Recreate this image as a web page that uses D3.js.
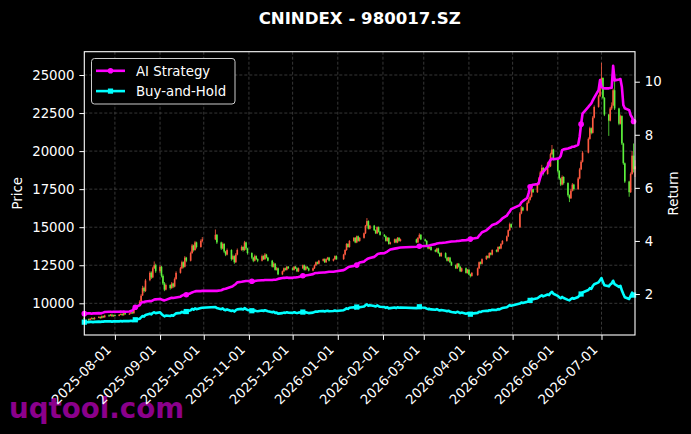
<!DOCTYPE html>
<html>
<head>
<meta charset="utf-8">
<script src="https://cdn.jsdelivr.net/npm/d3@7"></script>
<style>
  body { margin: 0; background: #000; }
  text { font-family: "DejaVu Sans", sans-serif; }
</style>
</head>
<body>
<div id="chart"></div>
<script>

// ------------------- //
// DATA
// ------------------- //

var firstDay = "2025-07-11", lastDay = "2026-07-24"
var holidays = ["2025-10-01","2025-10-02","2025-10-03","2025-10-06","2025-10-07","2025-10-08",
  "2026-01-01","2026-01-02","2026-02-16","2026-02-17","2026-02-18","2026-02-19","2026-02-20","2026-02-23",
  "2026-04-06","2026-05-01","2026-05-04","2026-05-05","2026-06-19"]

var priceOpen = [
  9050,8960,8900,8990,9030,8950,9060,9110,9030,9160,9080,9210,9170,9260,9140,
  9230,9170,9250,9310,9210,9360,9270,9320,9410,9340,9610,9820,10120,10520,11020,10800,11520,12020,11700,12300,12500,
  12100,12400,11800,11300,10900,11200,11000,11300,11100,11600,12000,12300,12700,12400,13000,12800,13300,13800,13500,14000,13700,14100,
  14200,14500,14000,13600,13900,13400,13200,13500,12900,13100,12700,13200,13500,13700,13500,14000,13600,
  13300,13000,12800,13100,12900,12800,13100,12900,13200,13000,12800,12400,12600,12200,12300,11900,12100,12300,12200,12400,
  12300,12200,12400,12300,12100,12300,12500,12200,12400,12300,12150,12300,12500,12700,12600,12800,12900,12700,12900,13000,12800,12900,13100,
  12900,13200,13500,13900,13700,14100,14300,14000,14400,14100,14300,14600,15100,15400,14900,15100,14800,14600,15000,14700,
  14500,14400,14100,14300,13900,14000,14200,14000,14300,14100,14200,14000,14300,14500,
  14200,14100,13800,13600,13700,13500,13400,13600,13300,13100,13300,13000,12800,13000,12700,12500,12300,12600,12400,12100,12300,12000,
  12200,11900,11800,11850,12300,12700,12600,12900,13100,13000,13300,13200,13500,13400,13700,13600,13900,14100,14400,14800,15200,
  15000,15900,16300,16100,16600,16800,17000,17500,17300,17800,18200,18600,18900,18500,19200,19000,19800,20100,
  19500,18700,18200,17800,18300,17900,17100,16900,17400,17800,17500,18200,18800,19300,19900,20800,21500,21200,22200,22900,23600,
  24300,24800,23500,22400,22000,22800,23000,24000,22800,21800,22300,20500,19200,18000,17300,18500,19700,18800]

var priceHigh = [
  9120,9000,9040,9080,9060,9100,9160,9130,9200,9190,9250,9260,9300,9280,9260,
  9260,9290,9340,9330,9390,9380,9360,9440,9430,9650,9850,10200,10600,11150,11100,11600,12100,12100,12400,12750,12600,
  12500,12450,11900,11400,11300,11250,11400,11350,11700,12100,12400,12800,12750,13100,13050,13400,13900,13850,14100,14050,14200,14350,
  14850,14550,14050,14000,13950,13450,13600,13550,13200,13150,13300,13600,13800,13750,14100,14050,13650,
  13350,13050,13200,13150,12950,13200,13150,13300,13250,13050,12850,12700,12650,12400,12350,12150,12350,12350,12450,12450,
  12350,12450,12450,12350,12350,12550,12550,12450,12450,12350,12350,12550,12750,12750,12850,12950,12950,12950,13050,13050,12950,13150,13150,
  13250,13550,13950,13950,14150,14350,14350,14450,14450,14350,14650,15150,15600,15450,15150,15150,14850,15050,15050,14750,
  14550,14450,14350,14350,14050,14250,14250,14350,14350,14250,14250,14350,14600,14550,
  14250,14150,13850,13750,13750,13550,13650,13650,13350,13350,13350,13050,13050,13050,12750,12550,12650,12650,12450,12350,12350,12250,
  12250,11950,12050,12350,12750,12750,12950,13150,13150,13350,13350,13550,13550,13750,13750,13950,14150,14450,14850,15300,15250,
  16000,16400,16350,16700,16900,17100,17600,17550,17900,18300,18700,19100,18950,19300,19250,19900,20400,20150,
  19550,18750,18250,18400,18350,17950,17150,17500,17900,17850,18300,18900,19400,20000,20900,21600,21550,22300,23000,23700,24500,
  25800,24850,23550,22450,22900,23200,24100,24900,22850,22400,22350,20550,19250,18050,18600,20000,20500,19400]

var priceLow = [
  8900,8830,8870,8950,8920,8930,9020,8990,9000,9040,9060,9130,9150,9110,9120,
  9140,9150,9220,9180,9200,9240,9250,9300,9310,9330,9580,9790,10080,10480,10700,10750,11450,11600,11650,12250,12000,
  12000,11700,11200,10800,10850,10900,10950,11000,11050,11550,11950,12250,12300,12350,12700,12750,13250,13400,13450,13600,13650,14000,
  14150,13900,13500,13550,13300,13100,13150,12800,12850,12600,12650,13150,13450,13400,13450,13500,13200,
  12900,12700,12750,12850,12700,12750,12850,12850,12950,12750,12350,12350,12150,12150,11850,11850,12050,12150,12150,12250,
  12150,12150,12250,12050,12050,12250,12150,12150,12250,12100,12100,12250,12450,12550,12550,12750,12650,12650,12850,12750,12750,12850,12850,
  12850,13150,13450,13650,13650,14050,13950,13950,14050,14050,14250,14550,15050,14850,14850,14750,14550,14550,14650,14450,
  14350,14050,14050,13850,13850,13950,13950,13950,14050,14050,13950,13950,14250,14150,
  14050,13750,13550,13550,13450,13350,13350,13250,13050,13050,12950,12750,12750,12650,12450,12250,12250,12350,12050,12050,11950,11950,
  11850,11700,11750,11800,12250,12550,12550,12850,12950,12950,13150,13150,13350,13350,13550,13550,13850,14050,14350,14750,14950,
  14950,15850,16050,16050,16550,16750,16950,17250,17250,17750,18150,18550,18400,18450,18900,18950,19750,19400,
  18600,18100,17700,17750,17800,17000,16650,16850,17350,17400,17450,18150,18750,19250,19850,20750,21100,21150,22150,22850,23550,
  24200,23400,22300,21000,21950,22700,22950,22700,21700,21750,20400,19100,17900,17000,17250,18450,18600,18300]

var priceClose = [
  8950,8900,8980,9020,8960,9050,9100,9020,9150,9080,9200,9180,9250,9150,9220,
  9180,9250,9300,9220,9350,9280,9320,9400,9350,9600,9800,10100,10500,11000,10800,11500,12000,11700,12300,12500,12100,
  12400,11800,11300,10900,11200,11000,11300,11100,11600,12000,12300,12700,12400,13000,12800,13300,13800,13500,14000,13700,14100,14200,
  14500,14000,13600,13900,13400,13200,13500,12900,13100,12700,13200,13500,13700,13500,14000,13600,13300,
  13000,12800,13100,12900,12800,13100,12900,13200,13000,12800,12400,12600,12200,12300,11900,12100,12300,12200,12400,12300,
  12200,12400,12300,12100,12300,12500,12200,12400,12300,12150,12300,12500,12700,12600,12800,12900,12700,12900,13000,12800,12900,13100,12900,
  13200,13500,13900,13700,14100,14300,14000,14400,14100,14300,14600,15100,15400,14900,15100,14800,14600,15000,14700,14500,
  14400,14100,14300,13900,14000,14200,14000,14300,14100,14200,14000,14300,14500,14200,
  14100,13800,13600,13700,13500,13400,13600,13300,13100,13300,13000,12800,13000,12700,12500,12300,12600,12400,12100,12300,12000,12200,
  11900,11800,12000,12300,12700,12600,12900,13100,13000,13300,13200,13500,13400,13700,13600,13900,14100,14400,14800,15200,15000,
  15900,16300,16100,16600,16800,17000,17500,17300,17800,18200,18600,18900,18500,19200,19000,19800,20100,19500,
  18700,18200,17800,18300,17900,17100,16900,17400,17800,17500,18200,18800,19300,19900,20800,21500,21200,22200,22900,23600,24300,
  24800,23500,22400,22000,22800,23000,24000,22800,21800,22300,20500,19200,18000,17300,18500,19700,18800,19000]

var aiReturn = [
  1.26,1.27,1.27,1.26,1.27,1.27,1.28,1.27,1.28,1.30,1.32,1.33,1.33,1.32,1.33,
  1.33,1.33,1.34,1.33,1.34,1.33,1.34,1.36,1.38,1.45,1.50,1.58,1.66,1.70,1.69,1.72,1.74,1.73,1.76,1.79,1.80,
  1.81,1.79,1.77,1.76,1.78,1.84,1.86,1.85,1.86,1.87,1.90,1.94,1.96,1.98,1.97,2.03,2.06,2.08,2.10,2.11,2.11,2.12,
  2.12,2.12,2.14,2.17,2.19,2.20,2.22,2.27,2.30,2.34,2.38,2.44,2.46,2.47,2.48,2.49,2.49,
  2.48,2.46,2.49,2.50,2.51,2.52,2.52,2.53,2.53,2.53,2.53,2.54,2.54,2.55,2.57,2.60,2.61,2.61,2.62,2.61,
  2.61,2.62,2.62,2.63,2.64,2.69,2.68,2.70,2.71,2.72,2.75,2.78,2.79,2.79,2.80,2.81,2.81,2.82,2.83,2.84,2.84,2.85,2.86,
  2.90,2.93,2.97,3.00,3.03,3.06,3.08,3.09,3.14,3.19,3.22,3.27,3.31,3.34,3.36,3.40,3.44,3.49,3.52,3.53,
  3.54,3.57,3.60,3.64,3.68,3.71,3.72,3.73,3.74,3.75,3.78,3.79,3.80,3.80,
  3.81,3.81,3.82,3.83,3.85,3.88,3.90,3.91,3.92,3.92,3.94,3.95,3.96,3.97,3.98,3.99,4.00,4.00,4.01,4.02,4.03,4.04,
  4.05,4.07,4.08,4.12,4.20,4.26,4.33,4.40,4.45,4.50,4.55,4.60,4.66,4.70,4.74,4.79,4.85,4.95,5.04,5.10,5.20,
  5.35,5.45,5.50,5.62,5.80,6.04,6.10,6.12,6.14,6.20,6.40,6.55,6.60,6.80,6.95,7.05,7.10,7.08,
  7.10,7.12,7.20,7.42,7.45,7.48,7.50,7.52,7.55,7.55,7.62,7.92,8.40,8.80,9.05,9.12,9.18,9.30,9.40,9.68,10.06,
  9.80,9.76,9.75,9.75,9.76,9.77,10.60,10.05,10.08,10.10,9.80,9.12,9.00,8.93,8.74,8.65,8.50,8.43]

var bhReturn = [
  0.94,0.94,0.95,0.95,0.94,0.95,0.96,0.95,0.96,0.96,0.97,0.97,0.97,0.96,0.97,
  0.97,0.97,0.98,0.97,0.98,0.98,0.98,0.99,0.98,1.01,1.03,1.07,1.12,1.17,1.15,1.21,1.26,1.23,1.29,1.31,1.28,
  1.31,1.25,1.20,1.16,1.19,1.17,1.20,1.18,1.23,1.27,1.29,1.33,1.30,1.36,1.34,1.39,1.44,1.41,1.46,1.43,1.47,1.48,
  1.51,1.47,1.43,1.46,1.41,1.39,1.42,1.36,1.38,1.34,1.39,1.42,1.44,1.42,1.47,1.43,1.40,
  1.37,1.35,1.38,1.36,1.35,1.38,1.36,1.39,1.37,1.35,1.31,1.33,1.29,1.30,1.26,1.28,1.30,1.29,1.31,1.30,
  1.29,1.31,1.30,1.28,1.30,1.32,1.29,1.31,1.30,1.28,1.30,1.32,1.34,1.33,1.35,1.36,1.34,1.36,1.37,1.35,1.36,1.38,1.36,
  1.39,1.42,1.46,1.44,1.48,1.50,1.47,1.51,1.48,1.50,1.53,1.58,1.61,1.56,1.58,1.55,1.53,1.57,1.54,1.52,
  1.51,1.48,1.50,1.46,1.47,1.49,1.47,1.50,1.48,1.49,1.47,1.50,1.52,1.49,
  1.48,1.45,1.43,1.44,1.42,1.41,1.43,1.40,1.38,1.40,1.37,1.35,1.37,1.34,1.32,1.30,1.33,1.31,1.28,1.30,1.26,1.28,
  1.25,1.24,1.26,1.29,1.33,1.32,1.35,1.37,1.36,1.39,1.38,1.41,1.40,1.43,1.42,1.45,1.47,1.50,1.54,1.58,1.56,
  1.64,1.68,1.66,1.71,1.73,1.76,1.82,1.80,1.84,1.88,1.92,1.95,1.91,1.98,1.96,2.04,2.08,2.01,
  1.93,1.88,1.84,1.89,1.85,1.78,1.76,1.81,1.85,1.82,1.89,1.95,2.00,2.06,2.15,2.22,2.19,2.30,2.37,2.44,2.52,
  2.60,2.45,2.33,2.29,2.36,2.40,2.50,2.37,2.27,2.31,2.13,2.00,1.88,1.81,1.93,2.05,1.96,1.98]

var priceTicks = [10000, 12500, 15000, 17500, 20000, 22500, 25000]
var returnTicks = [2, 4, 6, 8, 10]
var seriesNames = ["AI Strategy", "Buy-and-Hold"]

// ------------------- //
// SETUP
// ------------------- //

var W = 691, H = 434
var margin = {top: 51.7, right: 56, bottom: 99, left: 84.3},
  width = W - margin.left - margin.right,
  height = H - margin.top - margin.bottom

var parseDay = d3.timeParse("%Y-%m-%d"), fmtDay = d3.timeFormat("%Y-%m-%d")

// trading calendar: weekdays without exchange holidays
var days = d3.timeDay.range(parseDay(firstDay), d3.timeDay.offset(parseDay(lastDay), 1))
  .filter(function(d){ return d.getDay() != 0 && d.getDay() != 6 && holidays.indexOf(fmtDay(d)) < 0 })

var data = days.map(function(d, i){
  return {date: d, o: priceOpen[i], h: priceHigh[i], l: priceLow[i], c: priceClose[i], ai: aiReturn[i], bh: bhReturn[i]}
})

var svg = d3.select("#chart")
.append("svg")
  .attr("width", W)
  .attr("height", H)
  .style("background", "#000")

// watermark sits under the tick labels
svg.append("text")
  .attr("x", 9).attr("y", 418)
  .attr("fill", "#8b008b")
  .style("font-size", "27.7px").style("font-weight", "bold")
  .text("uqtool.com")

var g = svg.append("g")
  .attr("transform", "translate(" + margin.left + "," + margin.top + ")")

// ------------------- //
// AXIS AND SCALES
// ------------------- //

var x = d3.scaleTime()
  .domain([parseDay(firstDay), parseDay(lastDay)])
  .range([0, width])
var yP = d3.scaleLinear().domain([7917, 26531]).range([height, 0])
var yR = d3.scaleLinear().domain([0.456, 11.13]).range([height, 0])

var months = d3.timeMonth.range(parseDay("2025-08-01"), parseDay("2026-07-02"))

// grid
g.append("g").selectAll("line").data(priceTicks).enter().append("line")
  .attr("x1", 0).attr("x2", width)
  .attr("y1", function(d){ return yP(d) }).attr("y2", function(d){ return yP(d) })
  .attr("stroke", "#5a5a5a").attr("stroke-width", 0.6).attr("stroke-dasharray", "3,2")
g.append("g").selectAll("line").data(months).enter().append("line")
  .attr("y1", 0).attr("y2", height)
  .attr("x1", function(d){ return x(d) }).attr("x2", function(d){ return x(d) })
  .attr("stroke", "#5a5a5a").attr("stroke-width", 0.6).attr("stroke-dasharray", "3,2")

// ------------------- //
// CANDLES
// ------------------- //

function candleColor(d){ return d.c >= d.o ? "#ff5a40" : "#5cf03c" }

g.append("g").selectAll("line").data(data).enter().append("line")
  .attr("x1", function(d){ return x(d.date) }).attr("x2", function(d){ return x(d.date) })
  .attr("y1", function(d){ return yP(d.h) }).attr("y2", function(d){ return yP(d.l) })
  .attr("stroke", candleColor).attr("stroke-width", 0.8)

g.append("g").selectAll("rect").data(data).enter().append("rect")
  .attr("x", function(d){ return x(d.date) - 0.8 })
  .attr("width", 1.6)
  .attr("y", function(d){ return yP(Math.max(d.o, d.c)) })
  .attr("height", function(d){ return Math.max(1, Math.abs(yP(d.o) - yP(d.c))) })
  .attr("fill", candleColor)

// ------------------- //
// RETURN LINES
// ------------------- //

var lineAI = d3.line().x(function(d){ return x(d.date) }).y(function(d){ return yR(d.ai) })
var lineBH = d3.line().x(function(d){ return x(d.date) }).y(function(d){ return yR(d.bh) })

g.append("path").datum(data).attr("d", lineBH)
  .attr("fill", "none").attr("stroke", "#00ffff").attr("stroke-width", 2.6).attr("stroke-linejoin", "round")
g.append("path").datum(data).attr("d", lineAI)
  .attr("fill", "none").attr("stroke", "#ff00ff").attr("stroke-width", 2.6).attr("stroke-linejoin", "round")

// markers every 25 sessions
var marked = data.filter(function(d, i){ return i % 25 == 0 })
g.append("g").selectAll("rect").data(marked).enter().append("rect")
  .attr("x", function(d){ return x(d.date) - 2.6 }).attr("y", function(d){ return yR(d.bh) - 2.6 })
  .attr("width", 5.2).attr("height", 5.2).attr("fill", "#00ffff")
g.append("g").selectAll("circle").data(marked).enter().append("circle")
  .attr("cx", function(d){ return x(d.date) }).attr("cy", function(d){ return yR(d.ai) })
  .attr("r", 2.8).attr("fill", "#ff00ff")

// ------------------- //
// FRAME, TICKS, LABELS
// ------------------- //

g.append("rect")
  .attr("width", width).attr("height", height)
  .attr("fill", "none").attr("stroke", "#fff").attr("stroke-width", 1.1)

var axL = g.append("g")
  .call(d3.axisLeft(yP).tickValues(priceTicks).tickFormat(d3.format("d")).tickSize(4.9).tickPadding(4.9))
var axR = g.append("g").attr("transform", "translate(" + width + ",0)")
  .call(d3.axisRight(yR).tickValues(returnTicks).tickFormat(d3.format("d")).tickSize(4.9).tickPadding(4.9))
var axB = g.append("g").attr("transform", "translate(0," + height + ")")
  .call(d3.axisBottom(x).tickValues(months).tickSize(4.9).tickFormat(fmtDay))

;[axL, axR, axB].forEach(function(a){
  a.select(".domain").remove()
  a.selectAll("line").attr("stroke", "#fff").attr("stroke-width", 1)
  a.selectAll("text").attr("fill", "#fff").style("font-size", "13.3px").style("font-family", "DejaVu Sans")
})
axB.selectAll("text")
  .attr("text-anchor", "end")
  .attr("dy", null).attr("y", null)
  .attr("transform", "translate(-3.5,15.5) rotate(-45)")

// axis titles
svg.append("text")
  .attr("transform", "translate(22," + (margin.top + height/2) + ") rotate(-90)")
  .attr("text-anchor", "middle").attr("fill", "#fff").style("font-size", "13.3px")
  .text("Price")
svg.append("text")
  .attr("transform", "translate(678," + (margin.top + height/2) + ") rotate(-90)")
  .attr("text-anchor", "middle").attr("fill", "#fff").style("font-size", "13.3px")
  .text("Return")

// title
svg.append("text")
  .attr("x", margin.left + width/2).attr("y", 24)
  .attr("text-anchor", "middle").attr("fill", "#fff")
  .style("font-size", "16.6px").style("font-weight", "bold")
  .text("CNINDEX - 980017.SZ")

// ------------------- //
// LEGEND
// ------------------- //

var legend = svg.append("g").attr("transform", "translate(91.5,58.5)")
legend.append("rect")
  .attr("width", 143.5).attr("height", 45.5).attr("rx", 3)
  .attr("fill", "#000").attr("stroke", "#cccccc").attr("stroke-width", 1)
var legColors = ["#ff00ff", "#00ffff"]
seriesNames.forEach(function(name, i){
  var ly = 12.3 + i * 20.3
  legend.append("line")
    .attr("x1", 4.5).attr("x2", 33.5).attr("y1", ly).attr("y2", ly)
    .attr("stroke", legColors[i]).attr("stroke-width", 2.6)
  if (i == 0) {
    legend.append("circle").attr("cx", 19).attr("cy", ly).attr("r", 2.8).attr("fill", legColors[i])
  } else {
    legend.append("rect").attr("x", 16.4).attr("y", ly - 2.6).attr("width", 5.2).attr("height", 5.2).attr("fill", legColors[i])
  }
  legend.append("text")
    .attr("x", 44.5).attr("y", ly + 4.8)
    .attr("fill", "#fff").style("font-size", "13.3px")
    .text(name)
})

</script>
</body>
</html>
